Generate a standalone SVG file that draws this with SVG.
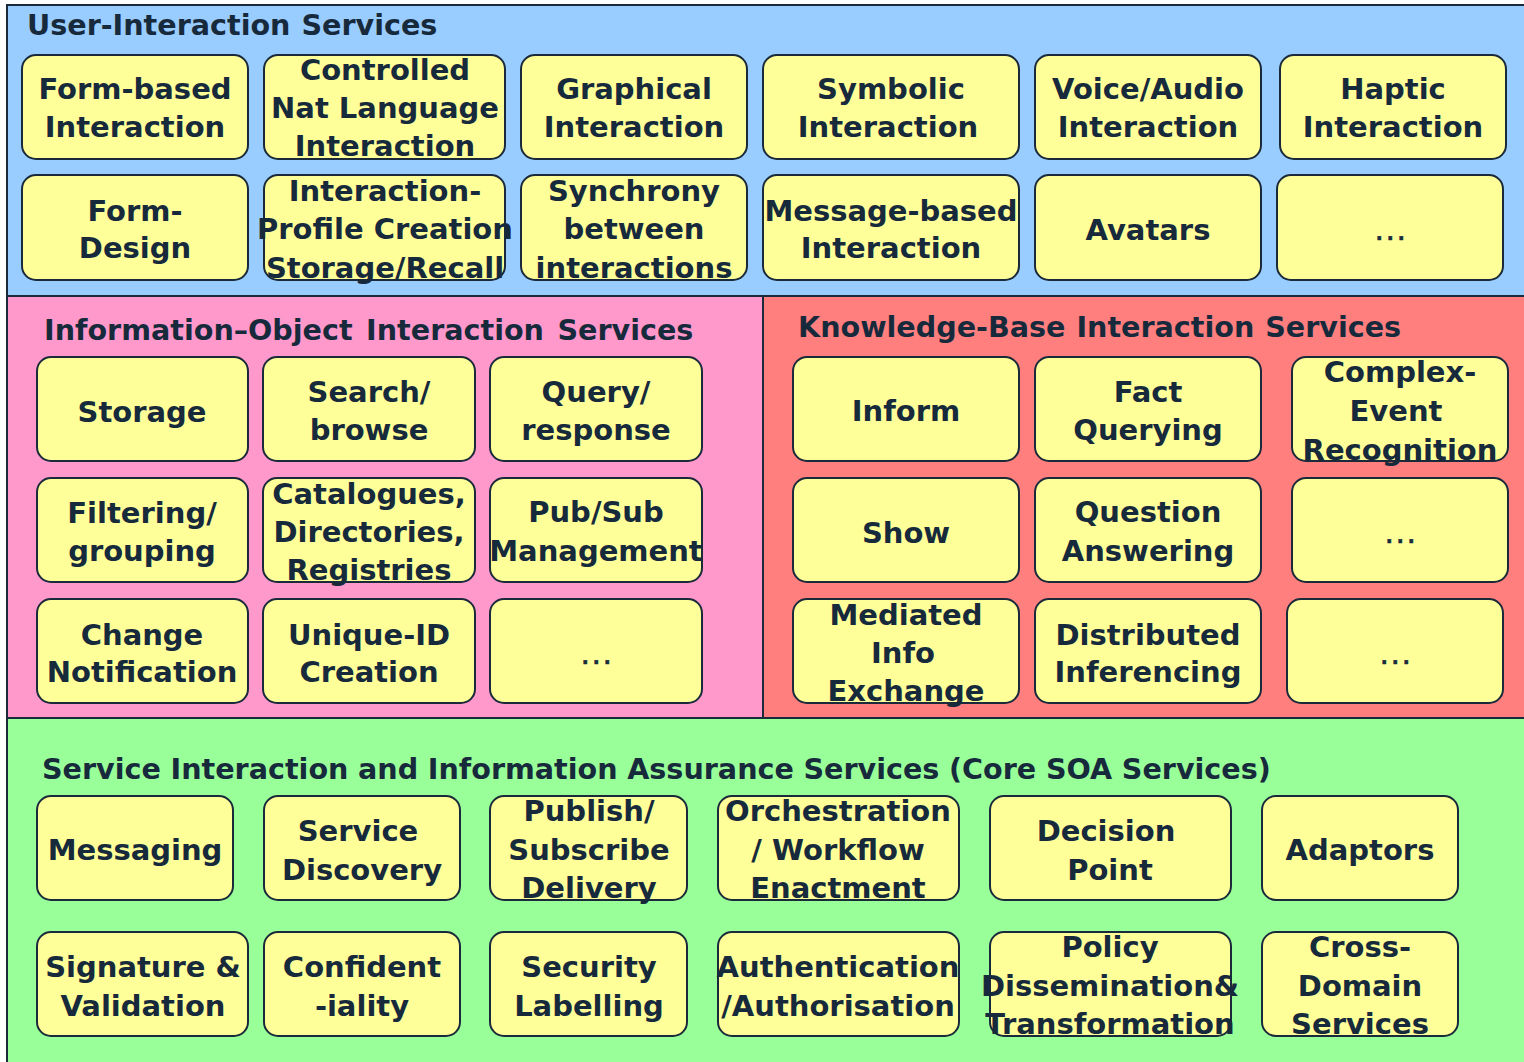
<svg xmlns="http://www.w3.org/2000/svg" width="1524" height="1062" viewBox="0 0 1524 1062">
  <style>
    .band { stroke: #1b2a3a; stroke-width: 2; }
    .node rect { fill: #ffff99; stroke: #1b2a3a; stroke-width: 2; }
    text { font-family: "DejaVu Sans", Verdana, sans-serif; font-weight: bold; fill: #172a3c; }
    .lbl { font-size: 29px; text-anchor: middle; }
    .more { font-size: 30px; font-weight: normal; letter-spacing: 1.5px; text-anchor: middle; stroke: #172a3c; stroke-width: 0.6px; }
    .ttl { font-size: 28.6px; word-spacing: 1px; }
  </style>
  <rect width="1524" height="1062" fill="#ffffff"/>
  <!-- service layers -->
  <g id="layers">
    <rect class="band" x="7" y="5" width="1530" height="291" fill="#99ccff"/>
    <rect class="band" x="7" y="296" width="756" height="422" fill="#ff99cc"/>
    <rect class="band" x="763" y="296" width="774" height="422" fill="#ff7f7f"/>
    <rect class="band" x="7" y="718" width="1530" height="360" fill="#99ff99"/>
    <text class="ttl" x="27" y="35">User-Interaction Services</text>
    <text class="ttl" x="44" y="340" style="word-spacing: 3.5px">Information–Object Interaction Services</text>
    <text class="ttl" x="798" y="337">Knowledge-Base Interaction Services</text>
    <text class="ttl" x="42" y="779" style="word-spacing: -0.3px">Service Interaction and Information Assurance Services (Core SOA Services)</text>
  </g>
  <g id="connectors"/>

  <!-- User-interaction services -->
  <g id="n-form-based" class="node"><rect x="22" y="55" width="226" height="104" rx="14"/>
    <text class="lbl" x="135" y="99">Form-based</text><text class="lbl" x="135" y="137">Interaction</text></g>
  <g id="n-controlled" class="node"><rect x="264" y="55" width="241" height="104" rx="14"/>
    <text class="lbl" x="385" y="80">Controlled</text><text class="lbl" x="385" y="118">Nat Language</text><text class="lbl" x="385" y="156">Interaction</text></g>
  <g id="n-graphical" class="node"><rect x="521" y="55" width="226" height="104" rx="14"/>
    <text class="lbl" x="634" y="99">Graphical</text><text class="lbl" x="634" y="137">Interaction</text></g>
  <g id="n-symbolic" class="node"><rect x="763" y="55" width="256" height="104" rx="14"/>
    <text class="lbl" x="891" y="99">Symbolic</text><text class="lbl" x="888" y="137">Interaction</text></g>
  <g id="n-voice" class="node"><rect x="1035" y="55" width="226" height="104" rx="14"/>
    <text class="lbl" x="1148" y="99">Voice/Audio</text><text class="lbl" x="1148" y="137">Interaction</text></g>
  <g id="n-haptic" class="node"><rect x="1280" y="55" width="226" height="104" rx="14"/>
    <text class="lbl" x="1393" y="99">Haptic</text><text class="lbl" x="1393" y="137">Interaction</text></g>

  <g id="n-form-design" class="node"><rect x="22" y="175" width="226" height="105" rx="14"/>
    <text class="lbl" x="135" y="221">Form-</text><text class="lbl" x="135" y="258">Design</text></g>
  <g id="n-profile" class="node"><rect x="264" y="175" width="241" height="105" rx="14"/>
    <text class="lbl" x="385" y="201">Interaction-</text><text class="lbl" x="385" y="239">Profile Creation</text><text class="lbl" x="385" y="278">Storage/Recall</text></g>
  <g id="n-synchrony" class="node"><rect x="521" y="175" width="226" height="105" rx="14"/>
    <text class="lbl" x="634" y="201">Synchrony</text><text class="lbl" x="634" y="239">between</text><text class="lbl" x="634" y="278">interactions</text></g>
  <g id="n-message-based" class="node"><rect x="763" y="175" width="256" height="105" rx="14"/>
    <text class="lbl" x="891" y="221">Message-based</text><text class="lbl" x="891" y="258">Interaction</text></g>
  <g id="n-avatars" class="node"><rect x="1035" y="175" width="226" height="105" rx="14"/>
    <text class="lbl" x="1148" y="240">Avatars</text></g>
  <g id="n-ui-more" class="node"><rect x="1277" y="175" width="226" height="105" rx="14"/>
    <text class="more" x="1391" y="240">...</text></g>

  <!-- Information-object interaction services -->
  <g id="n-storage" class="node"><rect x="37" y="357" width="211" height="104" rx="14"/>
    <text class="lbl" x="142" y="422">Storage</text></g>
  <g id="n-search" class="node"><rect x="263" y="357" width="212" height="104" rx="14"/>
    <text class="lbl" x="369" y="402">Search/</text><text class="lbl" x="369" y="440">browse</text></g>
  <g id="n-query" class="node"><rect x="490" y="357" width="212" height="104" rx="14"/>
    <text class="lbl" x="596" y="402">Query/</text><text class="lbl" x="596" y="440">response</text></g>
  <g id="n-filtering" class="node"><rect x="37" y="478" width="211" height="104" rx="14"/>
    <text class="lbl" x="142" y="523">Filtering/</text><text class="lbl" x="142" y="561">grouping</text></g>
  <g id="n-catalogues" class="node"><rect x="263" y="478" width="212" height="104" rx="14"/>
    <text class="lbl" x="369" y="504">Catalogues,</text><text class="lbl" x="369" y="542">Directories,</text><text class="lbl" x="369" y="580">Registries</text></g>
  <g id="n-pubsub" class="node"><rect x="490" y="478" width="212" height="104" rx="14"/>
    <text class="lbl" x="596" y="522">Pub/Sub</text><text class="lbl" x="596" y="561">Management</text></g>
  <g id="n-change" class="node"><rect x="37" y="599" width="211" height="104" rx="14"/>
    <text class="lbl" x="142" y="645">Change</text><text class="lbl" x="142" y="682">Notification</text></g>
  <g id="n-unique-id" class="node"><rect x="263" y="599" width="212" height="104" rx="14"/>
    <text class="lbl" x="369" y="645">Unique-ID</text><text class="lbl" x="369" y="682">Creation</text></g>
  <g id="n-io-more" class="node"><rect x="490" y="599" width="212" height="104" rx="14"/>
    <text class="more" x="597" y="664">...</text></g>

  <!-- Knowledge-base interaction services -->
  <g id="n-inform" class="node"><rect x="793" y="357" width="226" height="104" rx="14"/>
    <text class="lbl" x="906" y="421">Inform</text></g>
  <g id="n-fact" class="node"><rect x="1035" y="357" width="226" height="104" rx="14"/>
    <text class="lbl" x="1148" y="402">Fact</text><text class="lbl" x="1148" y="440">Querying</text></g>
  <g id="n-complex" class="node"><rect x="1292" y="357" width="216" height="104" rx="14"/>
    <text class="lbl" x="1400" y="382">Complex-</text><text class="lbl" x="1396" y="421">Event</text><text class="lbl" x="1400" y="460">Recognition</text></g>
  <g id="n-show" class="node"><rect x="793" y="478" width="226" height="104" rx="14"/>
    <text class="lbl" x="906" y="543">Show</text></g>
  <g id="n-question" class="node"><rect x="1035" y="478" width="226" height="104" rx="14"/>
    <text class="lbl" x="1148" y="522">Question</text><text class="lbl" x="1148" y="561">Answering</text></g>
  <g id="n-kb-more1" class="node"><rect x="1292" y="478" width="216" height="104" rx="14"/>
    <text class="more" x="1401" y="543">...</text></g>
  <g id="n-mediated" class="node"><rect x="793" y="599" width="226" height="104" rx="14"/>
    <text class="lbl" x="906" y="625">Mediated</text><text class="lbl" x="903" y="663">Info</text><text class="lbl" x="906" y="701">Exchange</text></g>
  <g id="n-distributed" class="node"><rect x="1035" y="599" width="226" height="104" rx="14"/>
    <text class="lbl" x="1148" y="645">Distributed</text><text class="lbl" x="1148" y="682">Inferencing</text></g>
  <g id="n-kb-more2" class="node"><rect x="1287" y="599" width="216" height="104" rx="14"/>
    <text class="more" x="1396" y="664">...</text></g>

  <!-- Core SOA services -->
  <g id="n-messaging" class="node"><rect x="37" y="796" width="196" height="104" rx="14"/>
    <text class="lbl" x="135" y="860">Messaging</text></g>
  <g id="n-discovery" class="node"><rect x="264" y="796" width="196" height="104" rx="14"/>
    <text class="lbl" x="358" y="841">Service</text><text class="lbl" x="362" y="880">Discovery</text></g>
  <g id="n-publish" class="node"><rect x="490" y="796" width="197" height="104" rx="14"/>
    <text class="lbl" x="589" y="821">Publish/</text><text class="lbl" x="589" y="860">Subscribe</text><text class="lbl" x="589" y="898">Delivery</text></g>
  <g id="n-orchestration" class="node"><rect x="718" y="796" width="241" height="104" rx="14"/>
    <text class="lbl" x="838" y="821">Orchestration</text><text class="lbl" x="838" y="860">/ Workflow</text><text class="lbl" x="838" y="898">Enactment</text></g>
  <g id="n-decision" class="node"><rect x="990" y="796" width="241" height="104" rx="14"/>
    <text class="lbl" x="1106" y="841">Decision</text><text class="lbl" x="1110" y="880">Point</text></g>
  <g id="n-adaptors" class="node"><rect x="1262" y="796" width="196" height="104" rx="14"/>
    <text class="lbl" x="1360" y="860">Adaptors</text></g>
  <g id="n-signature" class="node"><rect x="37" y="932" width="211" height="104" rx="14"/>
    <text class="lbl" x="143" y="977">Signature &amp;</text><text class="lbl" x="143" y="1016">Validation</text></g>
  <g id="n-confidentiality" class="node"><rect x="264" y="932" width="196" height="104" rx="14"/>
    <text class="lbl" x="362" y="977">Confident</text><text class="lbl" x="362" y="1016">-iality</text></g>
  <g id="n-security" class="node"><rect x="490" y="932" width="197" height="104" rx="14"/>
    <text class="lbl" x="589" y="977">Security</text><text class="lbl" x="589" y="1016">Labelling</text></g>
  <g id="n-authentication" class="node"><rect x="718" y="932" width="241" height="104" rx="14"/>
    <text class="lbl" x="838" y="977">Authentication</text><text class="lbl" x="838" y="1016">/Authorisation</text></g>
  <g id="n-policy" class="node"><rect x="990" y="932" width="241" height="104" rx="14"/>
    <text class="lbl" x="1110" y="957">Policy</text><text class="lbl" x="1110" y="996">Dissemination&amp;</text><text class="lbl" x="1110" y="1034">Transformation</text></g>
  <g id="n-cross-domain" class="node"><rect x="1262" y="932" width="196" height="104" rx="14"/>
    <text class="lbl" x="1360" y="957">Cross-</text><text class="lbl" x="1360" y="996">Domain</text><text class="lbl" x="1360" y="1034">Services</text></g>
</svg>
